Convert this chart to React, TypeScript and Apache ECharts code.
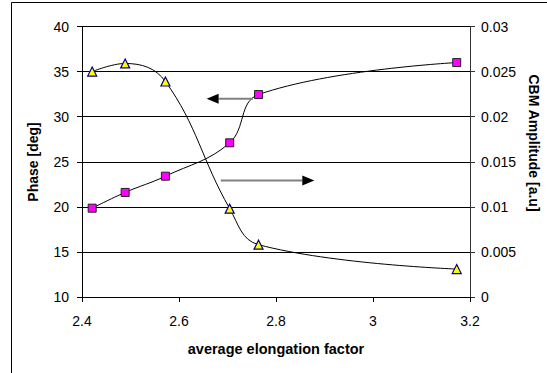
import React, { useEffect, useRef } from "react";
import * as echarts from "echarts";

const elongation = [2.421, 2.489, 2.572, 2.7045, 2.764, 3.1726];
const phaseDeg = [19.85, 21.6, 23.4, 27.1, 32.45, 36.0];
const cbmAmplitude = [0.025, 0.0259, 0.0239, 0.0098, 0.0058, 0.0031];

const xTicks = { min: 2.4, max: 3.2, interval: 0.2 };
const phaseTicks = { min: 10, max: 40, interval: 5 };
const ampTicks = { min: 0, max: 0.03, interval: 0.005 };

// annotation arrows in data coordinates: [fromX, fromY] -> [tipX, tipY] on the phase axis
const leftArrow = [[2.7526, 32.0], [2.657, 32.0]];
const rightArrow = [[2.686, 22.92], [2.879, 22.92]];

const FONT = "'Liberation Sans', Arial, sans-serif";

export default function App() {
  const ref = useRef<HTMLDivElement>(null);
  useEffect(() => {
    if (!ref.current) return;
    const chart = echarts.init(ref.current, null, { renderer: "svg" });
    const phaseData = elongation.map((x, i) => [x, phaseDeg[i]]);
    const ampData = elongation.map((x, i) => [x, cbmAmplitude[i]]);
    chart.setOption({
      animation: false,
      backgroundColor: "#fff",
      textStyle: { fontFamily: FONT },
      grid: { left: 82, right: 77, top: 26.5, bottom: 76 },
      xAxis: {
        type: "value",
        min: xTicks.min,
        max: xTicks.max,
        interval: xTicks.interval,
        axisLine: { lineStyle: { color: "#000", width: 1 } },
        axisTick: { show: true, length: 5, lineStyle: { color: "#000" } },
        splitLine: { show: false },
        axisLabel: {
          color: "#000",
          fontSize: 14,
          fontFamily: FONT,
          margin: 17,
          formatter: (v: number) => String(Math.round(v * 10) / 10),
        },
      },
      yAxis: [
        {
          type: "value",
          position: "left",
          min: phaseTicks.min,
          max: phaseTicks.max,
          interval: phaseTicks.interval,
          axisLine: { show: true, lineStyle: { color: "#000", width: 1 } },
          axisTick: { show: true, length: 5, lineStyle: { color: "#000" } },
          splitLine: { show: true, lineStyle: { color: "#000", width: 1 } },
          axisLabel: { color: "#000", fontSize: 14, fontFamily: FONT, margin: 13 },
        },
        {
          type: "value",
          position: "right",
          min: ampTicks.min,
          max: ampTicks.max,
          interval: ampTicks.interval,
          axisLine: { show: true, lineStyle: { color: "#333", width: 1 } },
          axisTick: { show: true, length: 5, lineStyle: { color: "#333" } },
          splitLine: { show: false },
          axisLabel: {
            color: "#000",
            fontSize: 14,
            fontFamily: FONT,
            margin: 11,
            formatter: (v: number) => String(Math.round(v * 1000) / 1000),
          },
        },
      ],
      series: [
        {
          name: "Phase",
          type: "line",
          yAxisIndex: 0,
          data: phaseData,
          smooth: 0.4,
          symbol: "rect",
          symbolSize: 8,
          lineStyle: { color: "#000", width: 1 },
          itemStyle: { color: "#FF00FF", borderColor: "#202020", borderWidth: 1 },
          z: 3,
        },
        {
          name: "CBM Amplitude",
          type: "line",
          yAxisIndex: 1,
          data: ampData,
          smooth: 0.4,
          symbol: "triangle",
          symbolSize: 9,
          lineStyle: { color: "#000", width: 1 },
          itemStyle: { color: "#FFFF00", borderColor: "#000080", borderWidth: 1.2 },
          z: 3,
        },
      ],
    });

    const px = (p: number[]) =>
      chart.convertToPixel({ xAxisIndex: 0, yAxisIndex: 0 }, p) as number[];
    const arrow = (a: number[][]) => {
      const from = px(a[0]);
      const tip = px(a[1]);
      const dir = Math.sign(tip[0] - from[0]);
      const headLen = 12;
      const half = 5;
      const base = tip[0] - dir * headLen;
      return [
        {
          type: "line",
          shape: { x1: from[0], y1: from[1], x2: base, y2: tip[1] },
          style: { stroke: "#808080", lineWidth: 2 },
          z: 10,
        },
        {
          type: "polygon",
          shape: {
            points: [
              [tip[0], tip[1]],
              [base, tip[1] - half],
              [base, tip[1] + half],
            ],
          },
          style: { fill: "#000" },
          z: 10,
        },
      ];
    };

    chart.setOption({
      graphic: [
        {
          type: "rect",
          shape: { x: 11.5, y: 2.5, width: 600, height: 420 },
          style: { fill: "none", stroke: "#000", lineWidth: 1 },
          z: -1,
          silent: true,
        },
        {
          type: "text",
          x: 33,
          y: 162,
          rotation: Math.PI / 2,
          style: {
            text: "Phase [deg]",
            fontSize: 14,
            fontWeight: "bold",
            fontFamily: FONT,
            fill: "#000",
            align: "center",
            verticalAlign: "middle",
          },
        },
        {
          type: "text",
          x: 534,
          y: 143,
          rotation: -Math.PI / 2,
          style: {
            text: "CBM Amplitude [a.u]",
            fontSize: 14,
            fontWeight: "bold",
            fontFamily: FONT,
            fill: "#000",
            align: "center",
            verticalAlign: "middle",
          },
        },
        {
          type: "text",
          x: 276,
          y: 349,
          style: {
            text: "average elongation factor",
            fontSize: 14.5,
            fontWeight: "bold",
            fontFamily: FONT,
            fill: "#000",
            align: "center",
            verticalAlign: "middle",
          },
        },
        ...arrow(leftArrow),
        ...arrow(rightArrow),
      ],
    });

    return () => chart.dispose();
  }, []);
  return <div ref={ref} style={{ width: 547, height: 373, position: "absolute", left: 0, top: 0 }} />;
}
